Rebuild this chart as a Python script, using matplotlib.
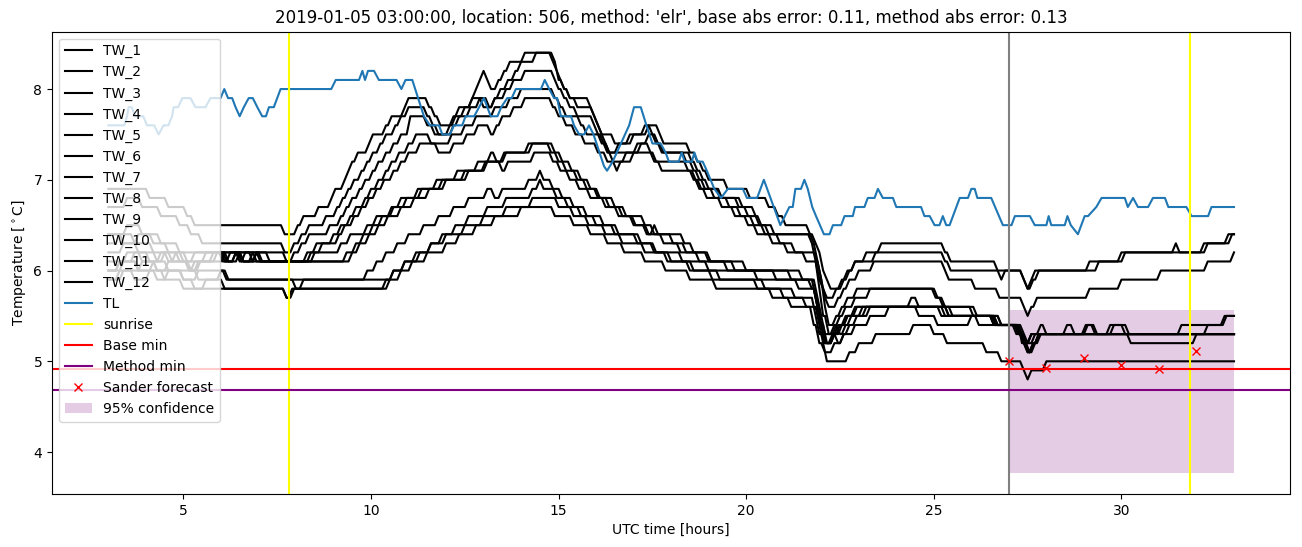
import numpy as np
import matplotlib
matplotlib.use("Agg")
import matplotlib.pyplot as plt

# water temperature sensors, (hour, value) where a new 0.1 degC level starts
tw_1 = [(3.0,6.9),(4.1,6.8),(4.6,6.7),(5.1,6.6),(5.3,6.5),(7.7,6.4),(8.05,6.5),(8.2,6.6),(8.6,6.7),(8.95,6.8),(9.05,6.9),(9.3,7.0),(9.4,7.1),(9.5,7.2),(9.65,7.3),(9.95,7.4),(10.05,7.5),(10.4,7.6),(10.55,7.7),(10.9,7.8),(11.0,7.9),(11.55,7.8),(11.7,7.7),(11.85,7.6),(12.2,7.7),(12.35,7.8),(12.7,7.9),(12.8,8.0),(12.9,8.1),(13.0,8.2),(13.1,8.1),(13.2,8.0),(13.4,8.1),(13.55,8.2),(13.7,8.3),(14.1,8.4),(14.85,8.3),(14.95,8.2),(15.05,8.1),(15.15,8.0),(15.3,7.9),(15.5,7.8),(15.95,7.7),(16.05,7.6),(16.15,7.5),(16.25,7.4),(16.35,7.3),(16.6,7.4),(16.9,7.5),(17.3,7.6),(17.7,7.5),(17.8,7.4),(18.5,7.3),(18.7,7.2),(18.85,7.1),(19.0,7.0),(19.5,6.9),(20.1,6.8),(20.6,6.7),(20.85,6.6),(21.05,6.5),(21.7,6.4),(21.85,6.3),(21.95,6.2),(22.05,6.0),(22.15,5.9),(22.25,5.8),(22.6,5.9),(22.75,6.0),(22.9,6.1),(23.45,6.2),(23.6,6.3),(25.3,6.2),(25.45,6.1),(26.7,6.0),(26.8,5.9),(26.9,6.0),(27.4,5.9),(27.5,5.8),(27.6,5.9),(27.7,6.0),(29.15,6.1),(30.0,6.2),(31.45,6.3),(31.55,6.2),(32.2,6.3),(32.85,6.4),(33.0,6.4)]
tw_2 = [(3.0,6.7),(3.5,6.8),(3.9,6.7),(4.4,6.6),(4.9,6.5),(5.2,6.4),(5.5,6.3),(7.7,6.2),(7.95,6.3),(8.15,6.4),(8.35,6.5),(8.8,6.6),(9.1,6.7),(9.25,6.8),(9.4,6.9),(9.55,7.0),(9.75,7.1),(9.9,7.2),(10.05,7.3),(10.25,7.4),(10.4,7.5),(10.65,7.6),(10.8,7.7),(11.0,7.8),(11.5,7.7),(11.65,7.6),(11.8,7.5),(12.1,7.6),(12.25,7.7),(12.5,7.8),(12.7,7.9),(13.0,7.8),(13.3,7.9),(13.45,8.0),(13.65,8.1),(13.85,8.2),(14.0,8.3),(14.4,8.4),(14.9,8.3),(15.0,8.1),(15.15,8.0),(15.3,7.9),(15.85,7.8),(15.95,7.7),(16.05,7.6),(16.15,7.5),(16.5,7.4),(17.0,7.5),(17.4,7.6),(17.5,7.5),(17.65,7.4),(17.8,7.3),(18.4,7.2),(18.6,7.1),(18.75,7.0),(18.9,6.9),(19.3,6.8),(19.9,6.7),(20.25,6.6),(20.4,6.5),(20.75,6.4),(21.75,6.3),(21.85,6.1),(21.95,5.9),(22.05,5.8),(22.15,5.7),(22.4,5.8),(22.55,5.9),(22.7,6.0),(22.9,6.1),(23.2,6.2),(25.3,6.1),(25.45,6.0),(27.4,5.9),(27.5,5.8),(27.65,5.9),(27.8,6.0),(29.4,6.1),(30.1,6.2),(32.3,6.3),(32.95,6.4),(33.0,6.4)]
tw_3 = [(3.0,6.4),(3.5,6.5),(3.9,6.4),(4.4,6.3),(4.9,6.2),(7.75,6.1),(7.95,6.2),(8.15,6.3),(8.35,6.4),(8.9,6.5),(9.2,6.6),(9.35,6.7),(9.5,6.8),(9.7,6.9),(9.85,7.0),(10.05,7.1),(10.2,7.2),(10.4,7.3),(10.6,7.4),(10.8,7.5),(11.05,7.7),(11.5,7.6),(11.7,7.5),(12.2,7.6),(12.35,7.7),(12.65,7.8),(12.9,7.9),(13.15,7.8),(13.3,7.9),(13.6,8.0),(13.8,8.1),(14.1,8.2),(14.9,8.1),(15.0,8.0),(15.15,7.9),(15.3,7.8),(15.5,7.7),(15.95,7.6),(16.05,7.5),(16.15,7.4),(16.3,7.3),(16.45,7.2),(16.55,7.1),(16.65,7.2),(16.8,7.3),(17.1,7.4),(17.4,7.5),(17.6,7.4),(17.75,7.3),(18.55,7.2),(18.7,7.1),(18.85,7.0),(19.0,6.9),(19.35,6.8),(19.8,6.7),(20.05,6.6),(20.35,6.5),(20.6,6.4),(21.8,6.3),(21.9,6.1),(22.0,5.9),(22.1,5.7),(22.2,5.6),(22.45,5.7),(22.6,5.8),(22.75,5.9),(23.0,6.0),(23.4,6.1),(25.3,6.0),(25.4,5.9),(26.1,5.8),(26.75,5.7),(27.4,5.6),(27.5,5.5),(27.6,5.6),(27.75,5.7),(29.15,5.8),(30.0,5.9),(31.05,6.0),(32.3,6.1),(33.0,6.2)]
tw_4 = [(3.0,6.3),(3.3,6.4),(3.7,6.3),(4.2,6.2),(4.6,6.1),(4.8,6.2),(5.1,6.1),(5.6,6.2),(6.15,6.1),(6.25,6.2),(6.55,6.1),(6.65,6.2),(6.85,6.1),(6.95,6.2),(7.3,6.1),(8.3,6.2),(8.55,6.3),(9.0,6.4),(9.2,6.5),(9.45,6.6),(9.6,6.7),(9.85,6.8),(10.0,6.9),(10.2,7.0),(10.4,7.1),(10.55,7.2),(10.75,7.3),(11.0,7.4),(11.2,7.5),(11.6,7.4),(12.15,7.5),(12.5,7.6),(12.8,7.7),(13.3,7.8),(13.7,7.9),(14.0,8.0),(14.9,7.9),(15.05,7.8),(15.2,7.7),(15.6,7.6),(15.75,7.5),(16.2,7.4),(16.35,7.3),(17.2,7.4),(17.45,7.3),(17.6,7.2),(18.45,7.1),(18.65,7.0),(18.8,6.9),(19.15,6.8),(19.55,6.7),(19.85,6.6),(20.2,6.5),(20.5,6.4),(20.7,6.3),(21.1,6.2),(21.9,6.1),(22.0,5.9),(22.1,5.6),(22.2,5.4),(22.4,5.5),(22.55,5.6),(22.7,5.7),(22.95,5.8),(25.05,5.7),(25.25,5.6),(26.05,5.5),(26.7,5.4),(27.3,5.3),(27.45,5.2),(27.55,5.1),(27.65,5.2),(27.8,5.3),(29.05,5.4),(29.35,5.3),(31.6,5.4),(32.8,5.5),(33.0,5.5)]
tw_5 = [(3.0,6.2),(3.4,6.3),(3.8,6.2),(4.3,6.1),(4.5,6.2),(4.9,6.1),(5.15,6.0),(5.3,6.1),(5.9,6.2),(6.1,6.1),(6.4,6.2),(6.6,6.1),(6.85,6.2),(6.95,6.1),(8.4,6.2),(8.7,6.3),(9.15,6.4),(9.3,6.5),(9.55,6.6),(9.75,6.7),(9.95,6.8),(10.15,6.9),(10.35,7.0),(10.6,7.1),(10.8,7.2),(11.0,7.3),(11.3,7.4),(11.8,7.3),(12.2,7.4),(12.55,7.5),(12.85,7.6),(13.2,7.5),(13.35,7.6),(13.5,7.7),(13.8,7.8),(14.1,7.9),(14.85,7.8),(15.0,7.7),(15.2,7.6),(15.45,7.5),(15.7,7.4),(16.05,7.3),(16.3,7.2),(17.0,7.3),(17.55,7.2),(17.75,7.1),(18.6,7.0),(18.75,6.9),(18.95,6.8),(19.35,6.7),(19.7,6.6),(20.05,6.5),(20.3,6.4),(20.9,6.3),(21.3,6.2),(21.6,6.1),(21.95,5.8),(22.05,5.5),(22.2,5.3),(22.4,5.4),(22.5,5.5),(22.65,5.6),(22.9,5.7),(23.3,5.8),(25.1,5.7),(25.3,5.6),(26.15,5.5),(26.8,5.4),(27.4,5.3),(27.5,5.2),(27.6,5.3),(27.85,5.4),(28.0,5.3),(33.0,5.3)]
tw_6 = [(3.0,6.4),(3.4,6.3),(3.8,6.4),(4.2,6.3),(4.6,6.2),(5.0,6.1),(5.3,6.2),(7.1,6.1),(8.5,6.2),(9.2,6.3),(9.45,6.4),(9.9,6.5),(10.15,6.6),(10.55,6.7),(10.8,6.8),(11.25,6.9),(11.9,7.0),(12.5,7.1),(13.05,7.2),(13.55,7.3),(14.2,7.4),(14.9,7.3),(15.1,7.2),(15.35,7.1),(15.6,7.0),(15.85,6.9),(16.1,6.8),(16.5,6.7),(16.8,6.6),(17.3,6.5),(17.55,6.4),(18.35,6.3),(18.6,6.2),(19.0,6.1),(19.7,6.0),(21.5,5.9),(21.9,5.7),(22.0,5.5),(22.1,5.3),(22.35,5.4),(22.5,5.3),(22.65,5.4),(22.8,5.5),(23.1,5.6),(25.2,5.5),(26.6,5.4),(27.3,5.3),(27.4,5.2),(27.6,5.3),(28.55,5.4),(28.75,5.3),(29.8,5.4),(30.2,5.3),(33.0,5.3)]
tw_7 = [(3.0,6.0),(3.3,6.1),(3.7,6.2),(4.1,6.1),(4.4,6.2),(4.7,6.1),(5.2,6.0),(5.4,6.1),(6.1,6.2),(6.2,6.1),(6.5,6.2),(6.6,6.1),(9.35,6.2),(9.6,6.3),(9.8,6.4),(10.05,6.5),(10.3,6.6),(10.6,6.7),(10.95,6.8),(11.35,6.9),(11.75,7.0),(12.3,7.1),(12.85,7.2),(13.2,7.3),(13.35,7.2),(13.6,7.3),(14.3,7.4),(14.8,7.3),(15.0,7.2),(15.2,7.1),(15.5,7.0),(15.75,6.9),(16.05,6.8),(16.35,6.7),(16.7,6.6),(17.05,6.5),(17.4,6.4),(17.55,6.5),(17.65,6.4),(18.05,6.3),(18.4,6.2),(19.05,6.1),(20.0,6.0),(20.8,5.9),(21.75,5.8),(21.9,5.6),(22.0,5.4),(22.15,5.2),(22.35,5.3),(22.55,5.4),(22.7,5.5),(22.9,5.6),(24.4,5.7),(24.6,5.6),(25.4,5.5),(26.7,5.4),(27.35,5.3),(27.45,5.2),(27.55,5.1),(27.7,5.2),(27.8,5.3),(29.7,5.4),(30.1,5.3),(33.0,5.3)]
tw_8 = [(3.0,6.1),(3.5,6.2),(3.9,6.1),(4.3,6.0),(4.6,6.1),(5.2,6.0),(5.45,6.1),(5.8,6.2),(6.05,6.1),(6.4,6.2),(6.5,6.1),(6.95,6.2),(7.05,6.1),(9.5,6.2),(9.7,6.3),(9.95,6.4),(10.2,6.5),(10.45,6.6),(10.8,6.7),(11.15,6.8),(11.55,6.9),(12.0,7.0),(12.6,7.1),(13.1,7.2),(13.5,7.1),(13.65,7.2),(14.35,7.3),(14.85,7.2),(15.05,7.1),(15.3,7.0),(15.55,6.9),(15.85,6.8),(16.25,6.7),(16.6,6.6),(17.0,6.5),(17.35,6.4),(17.8,6.3),(18.25,6.2),(18.75,6.1),(19.5,6.0),(21.2,5.9),(21.85,5.7),(21.95,5.5),(22.05,5.3),(22.15,5.2),(22.35,5.3),(22.45,5.4),(22.65,5.5),(22.95,5.6),(25.5,5.5),(26.8,5.4),(27.3,5.3),(27.45,5.2),(27.7,5.3),(29.1,5.4),(29.3,5.3),(33.0,5.3)]
tw_9 = [(3.0,6.0),(3.4,6.1),(3.8,6.0),(4.2,6.1),(4.6,6.0),(5.0,5.9),(5.4,6.0),(6.2,5.9),(9.9,6.0),(10.15,6.1),(10.4,6.2),(10.7,6.3),(11.0,6.4),(11.4,6.5),(11.8,6.6),(12.2,6.7),(12.6,6.8),(13.1,6.9),(13.3,6.8),(13.5,6.9),(14.2,7.0),(14.5,7.1),(14.6,7.0),(14.85,6.9),(15.1,6.8),(15.4,6.7),(15.75,6.6),(16.2,6.5),(16.6,6.4),(17.2,6.3),(17.6,6.2),(18.3,6.1),(19.0,6.0),(20.3,5.9),(21.4,5.8),(21.9,5.6),(22.0,5.4),(22.1,5.2),(22.3,5.3),(22.45,5.2),(22.6,5.3),(22.75,5.4),(22.95,5.5),(23.3,5.6),(24.6,5.5),(25.1,5.4),(26.0,5.5),(26.6,5.4),(27.25,5.3),(27.4,5.2),(27.5,5.1),(27.65,5.2),(27.85,5.3),(30.25,5.2),(32.0,5.3),(33.0,5.3)]
tw_10 = [(3.0,5.9),(3.4,6.0),(3.9,6.1),(4.3,6.0),(5.4,5.9),(6.1,5.8),(7.75,5.7),(7.95,5.8),(10.4,5.9),(10.6,6.0),(10.9,6.1),(11.2,6.2),(11.6,6.3),(11.9,6.4),(12.25,6.5),(12.6,6.6),(13.1,6.7),(13.6,6.8),(14.3,6.9),(14.5,7.0),(14.6,6.9),(14.95,6.8),(15.25,6.7),(15.6,6.6),(16.0,6.5),(16.5,6.4),(17.1,6.3),(17.55,6.2),(18.0,6.1),(18.6,6.0),(19.3,5.9),(20.5,5.8),(21.3,5.7),(21.85,5.5),(21.95,5.3),(22.1,5.2),(22.35,5.3),(22.5,5.4),(22.7,5.5),(23.2,5.6),(25.3,5.5),(26.65,5.4),(27.35,5.2),(27.5,5.1),(27.65,5.2),(27.8,5.3),(33.0,5.3)]
tw_11 = [(3.0,5.9),(3.3,6.0),(3.7,5.9),(4.1,6.0),(4.5,5.9),(5.0,5.8),(5.6,5.9),(6.0,6.0),(6.15,5.9),(8.0,5.8),(8.2,5.9),(10.6,6.0),(10.9,6.1),(11.3,6.2),(11.6,6.3),(12.0,6.4),(12.5,6.5),(13.0,6.6),(13.6,6.7),(14.3,6.8),(15.0,6.7),(15.4,6.6),(15.8,6.5),(16.25,6.4),(16.7,6.3),(17.3,6.2),(17.9,6.1),(18.5,6.0),(19.1,5.9),(20.3,5.8),(21.0,5.7),(21.6,5.6),(21.8,5.4),(21.95,5.2),(22.1,5.1),(22.35,5.2),(22.6,5.3),(22.9,5.4),(23.3,5.5),(23.8,5.6),(25.4,5.5),(26.2,5.4),(27.2,5.3),(27.4,5.2),(27.6,5.3),(32.3,5.4),(32.75,5.5),(33.0,5.5)]
tw_12 = [(3.0,6.0),(3.3,6.1),(3.8,6.0),(4.3,5.9),(4.6,6.0),(5.0,5.9),(5.3,5.8),(7.75,5.7),(7.9,5.8),(10.5,5.9),(10.8,6.0),(11.1,6.1),(11.5,6.2),(12.0,6.3),(12.35,6.4),(12.8,6.5),(13.3,6.6),(14.0,6.7),(14.9,6.6),(15.4,6.5),(15.85,6.4),(16.3,6.3),(16.75,6.2),(17.3,6.1),(17.85,6.0),(18.5,5.9),(19.2,5.8),(20.7,5.7),(21.2,5.6),(21.95,5.4),(22.05,5.2),(22.15,5.0),(22.75,5.1),(23.0,5.2),(23.45,5.3),(24.45,5.4),(25.0,5.3),(25.35,5.2),(26.4,5.1),(26.8,5.0),(27.4,4.9),(27.5,4.8),(27.6,4.9),(28.0,5.0),(33.0,5.0)]

# air temperature, polyline vertices (hour, degC)
tl = [(3.0,7.6),(3.42,7.6),(3.5,7.7),(3.54,7.8),(3.62,7.8),(3.72,7.7),(3.93,7.7),(4.03,7.6),(4.22,7.6),(4.34,7.5),(4.47,7.6),(4.6,7.6),(4.7,7.7),(4.74,7.8),(4.86,7.8),(4.97,7.9),(5.19,7.9),(5.32,7.8),(5.59,7.8),(5.72,7.9),(5.99,7.9),(6.09,8.0),(6.19,7.9),(6.3,7.9),(6.39,7.8),(6.5,7.7),(6.61,7.8),(6.74,7.9),(6.85,7.9),(6.97,7.8),(7.1,7.7),(7.2,7.7),(7.28,7.8),(7.41,7.8),(7.59,8.0),(8.94,8.0),(9.06,8.1),(9.68,8.1),(9.77,8.2),(9.84,8.1),(9.92,8.2),(10.08,8.2),(10.21,8.1),(10.68,8.1),(10.81,8.0),(10.92,8.1),(11.1,8.1),(11.41,7.7),(11.57,7.6),(11.81,7.6),(11.9,7.5),(12.1,7.5),(12.21,7.6),(12.43,7.6),(12.52,7.7),(12.75,7.7),(12.88,7.8),(13.01,7.9),(13.19,7.7),(13.37,7.7),(13.47,7.8),(13.63,7.9),(13.75,7.9),(13.86,8.0),(14.53,8.0),(14.63,8.1),(14.75,8.0),(14.88,7.9),(14.96,7.9),(15.06,7.7),(15.33,7.7),(15.41,7.6),(15.55,7.5),(15.68,7.5),(15.81,7.6),(15.93,7.5),(16.21,7.15),(16.29,7.1),(16.44,7.2),(16.66,7.4),(16.88,7.6),(17.01,7.8),(17.19,7.8),(17.34,7.6),(17.5,7.4),(17.72,7.4),(17.85,7.3),(17.94,7.2),(18.2,7.2),(18.28,7.3),(18.36,7.2),(18.55,7.2),(18.62,7.3),(18.7,7.2),(18.84,7.2),(18.95,7.1),(19.15,6.9),(19.33,6.8),(19.51,6.9),(19.91,6.9),(20.02,6.8),(20.29,6.8),(20.47,7.0),(20.91,6.5),(21.15,6.7),(21.24,6.7),(21.31,6.9),(21.46,6.9),(21.55,7.0),(21.64,6.9),(21.76,6.7),(21.86,6.6),(22.07,6.4),(22.22,6.4),(22.31,6.5),(22.53,6.5),(22.62,6.6),(22.84,6.6),(22.9,6.7),(23.15,6.7),(23.24,6.8),(23.42,6.8),(23.51,6.9),(23.64,6.8),(23.91,6.8),(24.0,6.7),(24.66,6.7),(24.75,6.6),(24.89,6.6),(25.02,6.5),(25.15,6.5),(25.24,6.6),(25.33,6.5),(25.42,6.5),(25.6,6.7),(25.69,6.8),(25.91,6.8),(26.0,6.9),(26.09,6.9),(26.16,6.8),(26.53,6.8),(26.84,6.5),(27.07,6.5),(27.16,6.6),(27.56,6.6),(27.69,6.5),(28.0,6.5),(28.06,6.6),(28.13,6.5),(28.49,6.5),(28.56,6.6),(28.65,6.5),(28.84,6.4),(29.02,6.6),(29.11,6.6),(29.33,6.7),(29.47,6.8),(30.09,6.8),(30.17,6.7),(30.31,6.8),(30.44,6.7),(30.71,6.7),(30.84,6.8),(31.16,6.8),(31.25,6.7),(31.73,6.7),(31.87,6.6),(32.31,6.6),(32.4,6.7),(33.0,6.7)]

sunrise = [7.82, 31.84]
forecast_time = 27.0
base_min = 4.92
method_min = 4.68
sander_t = [27, 28, 29, 30, 31, 32]
sander_v = [5.00, 4.93, 5.04, 4.96, 4.91, 5.11]
conf_t = [27, 33]
conf_lo = 3.77
conf_hi = 5.57

title = "2019-01-05 03:00:00, location: 506, method: 'elr', base abs error: 0.11, method abs error: 0.13"


def levels(p, dt=0.1):
    # level holds until the next change, which takes dt hours
    xs, ys = [], []
    for i in range(len(p) - 1):
        t, v = p[i]
        xs.append(t)
        ys.append(v)
        if p[i + 1][0] - dt > t:
            xs.append(p[i + 1][0] - dt)
            ys.append(v)
    xs.append(p[-1][0])
    ys.append(p[-1][1])
    return xs, ys


fig = plt.figure(figsize=(13.02, 5.47), dpi=100)
ax = fig.add_axes([0.040, 0.097, 0.951, 0.845])

tws = [tw_1, tw_2, tw_3, tw_4, tw_5, tw_6, tw_7, tw_8, tw_9, tw_10, tw_11, tw_12]
for n, p in enumerate(tws):
    x, y = levels(p)
    ax.plot(x, y, color="black", label="TW_%d" % (n + 1))

tl_t, tl_v = zip(*tl)
ax.plot(tl_t, tl_v, color="C0", label="TL")

for i, s in enumerate(sunrise):
    ax.axvline(s, color="yellow", label="sunrise" if i == 0 else None)
ax.axvline(forecast_time, color="grey")
ax.axhline(base_min, color="red", label="Base min")
ax.axhline(method_min, color="purple", label="Method min")
ax.plot(sander_t, sander_v, "x", color="red", label="Sander forecast")
ax.fill_between(conf_t, conf_lo, conf_hi, color="purple", alpha=0.2, linewidth=0, label="95% confidence")

ax.set_title(title)
ax.set_xlabel("UTC time [hours]")
ax.set_ylabel(r"Temperature [$^\circ$C]")
ax.legend(loc="upper left")

fig.savefig("out.png", dpi=100)
